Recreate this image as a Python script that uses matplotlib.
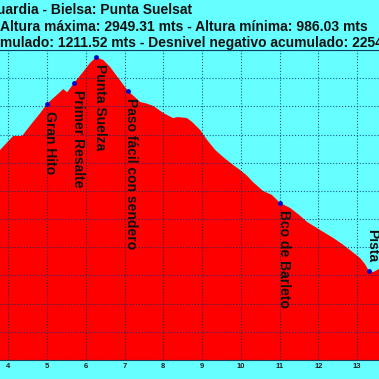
# Perfil de altitud - Punta Suelsat

import matplotlib
matplotlib.use("Agg")
import matplotlib.pyplot as plt

# --------------------------------------------------
# DATA
# --------------------------------------------------

# distance (km) and altitude (m) of the profile
dist_km = [3.79, 4.13, 4.36, 4.50, 4.64, 4.82, 5.00, 5.17, 5.34, 5.42, 5.52, 5.70,
           5.93, 6.11, 6.27, 6.45, 6.63, 6.84, 7.09, 7.25, 7.40, 7.57, 7.74, 8.00,
           8.25, 8.38, 8.61, 8.74, 8.95, 9.13, 9.34, 9.54, 9.80, 9.98, 10.15, 10.31,
           10.57, 10.80, 11.01, 11.27, 11.50, 11.71, 12.04, 12.38, 12.60, 12.81,
           13.07, 13.20, 13.30, 13.41, 13.56]
altitude = [2290, 2390, 2390, 2440, 2489, 2550, 2617, 2660, 2702, 2723, 2700, 2766,
            2844, 2908, 2949, 2929, 2879, 2801, 2709, 2670, 2631, 2620, 2603, 2553,
            2517, 2524, 2517, 2490, 2432, 2361, 2290, 2241, 2184, 2148, 2110, 2063,
            2000, 1971, 1914, 1879, 1830, 1779, 1723, 1666, 1625, 1581,
            1524, 1480, 1432, 1424, 1446]

# waypoints
wp_names = ["Gran Hito", "Primer Resalte", "Punta Suelza", "Paso fácil con sendero",
            "Bco de Barleto", "Pista"]
wp_km = [5.00, 5.70, 6.27, 7.09, 11.01, 13.30]
wp_alt = [2617, 2766, 2949, 2709, 1914, 1432]

x_ticks = [4, 5, 6, 7, 8, 9, 10, 11, 12, 13]

title_1 = "Guardia - Bielsa: Punta Suelsat"
title_2 = "Altura máxima: 2949.31 mts - Altura mínima: 986.03 mts"
title_3 = "Desnivel positivo acumulado: 1211.52 mts - Desnivel negativo acumulado: 2254.81 mts"

# --------------------------------------------------
# FIGURE
# --------------------------------------------------

bg = "#66FFFF"
font = "Liberation Sans"

fig = plt.figure(figsize=(3.79, 3.79), dpi=100, facecolor=bg)
ax = fig.add_axes([0, 19 / 379, 1, 310 / 379], facecolor=bg)

ax.fill_between(dist_km, altitude, 800, color="#FF0000", lw=0, zorder=1)
ax.scatter(wp_km, wp_alt, s=6, color="#0000CC", zorder=4)

for name, x, y in zip(wp_names, wp_km, wp_alt):
    if name == "Pista":
        off, va = (2.5, 6), "bottom"
    else:
        off, va = (2.5, -5), "top"
    ax.annotate(name, (x, y), xytext=off, textcoords="offset points",
                rotation=270, ha="center", va=va, fontsize=10,
                fontweight="bold", family=font, color="#111111", zorder=5)

ax.set_xlim(3.79, 13.56)
ax.set_ylim(800, 3000)
ax.set_xticks(x_ticks)
ax.set_yticks(range(800, 3001, 200))
ax.set_yticklabels([])
ax.tick_params(length=0, pad=2)
for lab in ax.get_xticklabels():
    lab.set_fontsize(5.5)
    lab.set_fontweight("bold")
    lab.set_family(font)
    lab.set_color("#222222")

ax.grid(True, color="#003070", linestyle=":", linewidth=0.8, alpha=0.8, zorder=2)
ax.set_axisbelow(False)
ax.spines["left"].set_visible(False)
ax.spines["right"].set_visible(False)
ax.spines["top"].set_color("#20405a")
ax.spines["bottom"].set_color("#20405a")

# --------------------------------------------------
# TITLES (cut by the figure edge like the original)
# --------------------------------------------------

kw = dict(fontsize=10, fontweight="bold", family=font, color="#111111", va="center")
fig.text(192 / 379, 1 - 10 / 379, title_1, ha="right", **kw)
fig.text(0, 1 - 27 / 379, title_2, ha="left", **kw)

renderer = fig.canvas.get_renderer()
tmp = fig.text(0, 0, "Desnivel positivo acu", **kw)
shift = tmp.get_window_extent(renderer).width
tmp.remove()
fig.text(-shift / 379, 1 - 43 / 379, title_3, ha="left", **kw)

fig.savefig("out.png", dpi=100, facecolor=bg)
